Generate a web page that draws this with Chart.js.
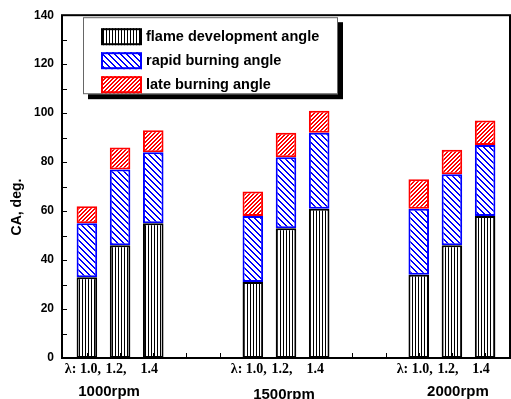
<!DOCTYPE html>
<html>
<head>
<meta charset="utf-8">
<script src="https://cdn.jsdelivr.net/npm/chart.js@4/dist/chart.umd.min.js"></script>
<style>
  html, body { margin: 0; padding: 0; background: #fff; }
  #box { width: 511px; height: 399px; }
</style>
</head>
<body>
<div id="box"><canvas id="chart"></canvas></div>
<script>
// bar positions on the x axis (three lambda values per engine speed)
const positions = [1, 2, 3, 6, 7, 8, 11, 12, 13];
const xTicks = [1, 2, 3, 4, 5, 6, 7, 8, 9, 10, 11, 12, 13];
const lambdaLabels = ["λ: 1.0,", "1.2,", "1.4", "λ: 1.0,", "1.2,", "1.4", "λ: 1.0,", "1.2,", "1.4"];
const rpmLabels = ["1000rpm", "1500rpm", "2000rpm"];

const seriesNames = ["flame development angle", "rapid burning angle", "late burning angle"];
const flameDev = [33, 46, 55, 31, 53, 61, 34, 46, 58];
const rapidBurn = [22, 31, 29, 27, 29, 31, 27, 29, 29];
const lateBurn = [7, 9, 9, 10, 10, 9, 12, 10, 10];

const FONT = '"Liberation Sans", Arial, sans-serif';

function hatch(color, size, draw) {
  const c = document.createElement("canvas");
  c.width = size;
  c.height = size;
  const g = c.getContext("2d");
  g.fillStyle = "#fff";
  g.fillRect(0, 0, size, size);
  g.fillStyle = color;
  draw(g, size);
  return g.createPattern(c, "repeat");
}

const ctx0 = document.getElementById("chart").getContext("2d");
const vertical = hatch("#000", 3, g => g.fillRect(1, 0, 1, 3));
const backDiag = hatch("#0000ff", 6, (g, s) => {
  for (let i = 0; i < s; i++) {
    g.fillRect(i, i, 1, 1);
    g.fillRect((i + 1) % s, i, 1, 1);
  }
});
const fwdDiag = hatch("#ff0000", 4, (g, s) => {
  for (let i = 0; i < s; i++) {
    g.fillRect(s - 1 - i, i, 1, 1);
    g.fillRect((2 * s - 2 - i) % s, i, 1, 1);
  }
});

function serie(label, values, fill, edge) {
  return {
    label,
    data: positions.map((x, i) => ({ x, y: values[i] })),
    backgroundColor: fill,
    borderColor: edge,
    borderWidth: 2,
    borderSkipped: false,
    categoryPercentage: 1,
    barPercentage: 0.62
  };
}

const frame = {
  id: "frame",
  afterDatasetsDraw(chart) {
    const { ctx, chartArea: a, scales } = chart;
    ctx.save();

    // inward tick marks
    ctx.strokeStyle = "#000";
    ctx.lineWidth = 1;
    ctx.beginPath();
    scales.x.ticks.forEach(t => {
      const px = Math.round(scales.x.getPixelForValue(t.value)) + 0.5;
      ctx.moveTo(px, a.bottom);
      ctx.lineTo(px, a.bottom - 5);
    });
    scales.y.ticks.forEach(t => {
      const py = Math.round(scales.y.getPixelForValue(t.value)) + 0.5;
      ctx.moveTo(a.left, py);
      ctx.lineTo(a.left + 5, py);
    });
    ctx.stroke();

    ctx.lineWidth = 2;
    ctx.strokeRect(a.left, a.top, a.right - a.left, a.bottom - a.top);

    // legend box with shadow
    const lx = a.left + 21, ly = a.top + 2, lw = 255, lh = 77;
    ctx.fillStyle = "#000";
    ctx.fillRect(lx + 5, ly + 5, lw, lh);
    ctx.fillStyle = "#fff";
    ctx.fillRect(lx, ly, lw, lh);
    ctx.strokeStyle = "#666";
    ctx.lineWidth = 1;
    ctx.strokeRect(lx + 0.5, ly + 0.5, lw - 1, lh - 1);

    chart.data.datasets.forEach((ds, i) => {
      const sx = lx + 18, sy = ly + 11 + i * 24;
      ctx.fillStyle = ds.backgroundColor;
      ctx.fillRect(sx, sy, 41, 17);
      ctx.strokeStyle = ds.borderColor;
      ctx.lineWidth = 2;
      ctx.strokeRect(sx + 1, sy + 1, 39, 15);
      ctx.fillStyle = "#000";
      ctx.font = "bold 14.5px " + FONT;
      ctx.textBaseline = "middle";
      ctx.textAlign = "left";
      ctx.fillText(ds.label, sx + 45, sy + 9);
    });

    ctx.restore();
  },
  afterDraw(chart) {
    const { ctx, scales } = chart;
    ctx.save();
    ctx.fillStyle = "#000";
    ctx.textAlign = "center";
    ctx.textBaseline = "middle";

    ctx.font = "bold 15px " + FONT;
    const shift = [-11, -2, 6];
    const drop = [0, 3, 0];
    rpmLabels.forEach((txt, g) => {
      const px = scales.x.getPixelForValue(positions[g * 3 + 1]) + shift[g];
      ctx.fillText(txt, px, 392 + drop[g]);
    });

    ctx.font = "bold 14px " + FONT;
    ctx.translate(17, 207);
    ctx.rotate(-Math.PI / 2);
    ctx.fillText("CA, deg.", 0, 0);
    ctx.restore();
  }
};

new Chart(ctx0, {
  type: "bar",
  data: {
    datasets: [
      serie(seriesNames[0], flameDev, vertical, "#000"),
      serie(seriesNames[1], rapidBurn, backDiag, "#0000ff"),
      serie(seriesNames[2], lateBurn, fwdDiag, "#ff0000")
    ]
  },
  options: {
    responsive: true,
    maintainAspectRatio: false,
    animation: false,
    layout: { padding: { top: 15, right: 1, left: 0, bottom: 0 } },
    plugins: {
      legend: { display: false },
      tooltip: { enabled: false }
    },
    scales: {
      x: {
        type: "linear",
        min: 0.25,
        max: 13.75,
        offset: false,
        stacked: true,
        grid: { display: false, drawTicks: false },
        border: { display: false },
        afterBuildTicks: s => { s.ticks = xTicks.map(v => ({ value: v })); },
        afterFit: s => { s.height = 41; },
        ticks: {
          autoSkip: false,
          maxRotation: 0,
          padding: 3,
          labelOffset: -4,
          color: "#000",
          font: { family: '"Liberation Serif", "Times New Roman", serif', weight: "bold", size: 14 },
          callback: v => {
            const i = positions.indexOf(v);
            return i >= 0 ? lambdaLabels[i] : "";
          }
        }
      },
      y: {
        min: 0,
        max: 140,
        stacked: true,
        grid: { display: false, drawTicks: false },
        border: { display: false },
        afterFit: s => { s.width = 62; },
        ticks: {
          stepSize: 10,
          padding: 8,
          color: "#000",
          font: { family: FONT, weight: "bold", size: 12 },
          callback: v => (v % 20 === 0 ? v : "")
        }
      }
    }
  },
  plugins: [frame]
});
</script>
</body>
</html>
